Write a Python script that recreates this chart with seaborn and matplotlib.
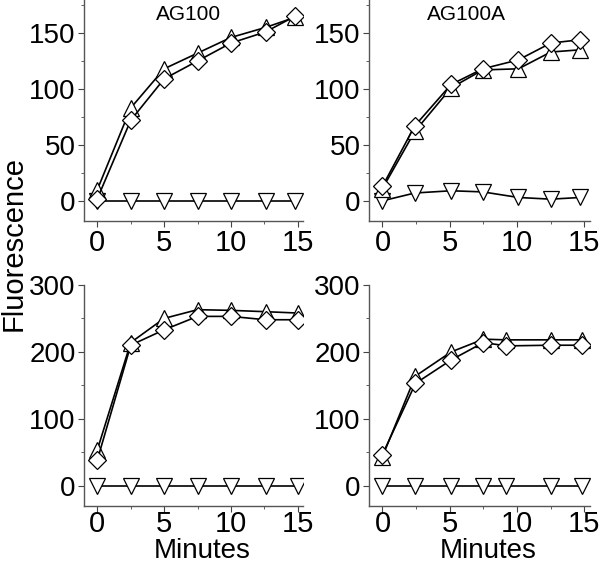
import numpy as np
import pandas as pd
import seaborn as sns
import matplotlib.pyplot as plt
from matplotlib.ticker import MultipleLocator

sns.set_style("ticks")
plt.rcParams["font.family"] = ["Liberation Sans", "DejaVu Sans"]
plt.rcParams["text.color"] = "black"
plt.rcParams["axes.labelcolor"] = "black"

# AG100 (top left)
tl_x = [0, 2.5, 5, 7.5, 10, 12.6, 14.8]
tl_tri = [10, 83, 118, 132, 146, 155, 164]
tl_dia = [2, 72, 109, 125, 141, 151, 165]
tl_down = [0, 0, 0, 0, 0, 0, 0]

# AG100A (top right)
tr_x = [0, 2.4, 5.1, 7.45, 10.1, 12.5, 14.7]
tr_tri = [11, 62, 101, 117, 118, 133, 135]
tr_dia = [13, 67, 104, 118, 126, 141, 144]
tr_down = [0, 7, 9, 8, 3, 1.5, 3]

# bottom left
bl_x = [0, 2.5, 5, 7.5, 10, 12.6, 15]
bl_tri = [54, 214, 250, 263, 262, 260, 258]
bl_dia = [39, 210, 233, 253, 253, 248, 248]
bl_down = [0, 0, 0, 0, 0, 0, 0]

# bottom right
br_x = [0, 2.45, 5.1, 7.5, 9.2, 12.5, 14.8]
br_tri = [44, 164, 200, 219, 218, 218, 218]
br_dia = [47, 153, 188, 214, 209, 210, 210]
br_down = [0, 0, 0, 0, 0, 0, 0]

panels = [
    (tl_x, tl_tri, tl_dia, tl_down, "AG100", 0.475, [0.14, 0.6075, 0.365, 0.3925], (-18, 179.5), 50, 25),
    (tr_x, tr_tri, tr_dia, tr_down, "AG100A", 0.44, [0.615, 0.6075, 0.368, 0.3925], (-18, 179.5), 50, 25),
    (bl_x, bl_tri, bl_dia, bl_down, None, 0, [0.14, 0.101, 0.365, 0.393], (-30, 300), 100, 50),
    (br_x, br_tri, br_dia, br_down, None, 0, [0.615, 0.101, 0.368, 0.393], (-30, 300), 100, 50),
]

fig = plt.figure(figsize=(6, 5.63), dpi=100)

for i, (x, tri, dia, down, title, tx, rect, ylim, major, minor) in enumerate(panels):
    ax = fig.add_axes(rect)
    style = dict(color="black", linewidth=1.2, markersize=11,
                 markerfacecolor="white", markeredgecolor="black",
                 markeredgewidth=0.9, ax=ax, sort=False)
    sns.lineplot(x=x, y=down, marker="v", **style)
    sns.lineplot(x=x, y=tri, marker="^", **style)
    sns.lineplot(x=x, y=dia, marker="D", **dict(style, markersize=9.5))
    ax.set_xlim(-1, 15.4)
    ax.set_ylim(*ylim)
    ax.xaxis.set_major_locator(MultipleLocator(5))
    ax.xaxis.set_minor_locator(MultipleLocator(2.5))
    ax.yaxis.set_major_locator(MultipleLocator(major))
    ax.yaxis.set_minor_locator(MultipleLocator(minor))
    ax.tick_params(which="both", direction="out", color="#444444", labelcolor="black")
    ax.tick_params(which="major", length=4)
    ax.tick_params(which="minor", length=2.5)
    ax.tick_params(axis="y", labelsize=20, pad=2)
    ax.tick_params(axis="x", labelsize=21, pad=2 if i < 2 else -1)
    for s in ["top", "right"]:
        ax.spines[s].set_visible(False)
    for s in ["left", "bottom"]:
        ax.spines[s].set_color("#555555")
        ax.spines[s].set_linewidth(1.0)
    if title:
        ax.text(tx, 0.934, title, transform=ax.transAxes, ha="center",
                va="center", fontsize=15)
    if i >= 2:
        ax.set_xlabel("Minutes", fontsize=20)
        ax.xaxis.set_label_coords(0.54, -0.145)
    else:
        ax.set_xlabel("")
    ax.set_ylabel("")

fig.text(0.023, 0.568, "Fluorescence", rotation=90, ha="center", va="center", fontsize=21)

fig.savefig("out.png", dpi=100)
